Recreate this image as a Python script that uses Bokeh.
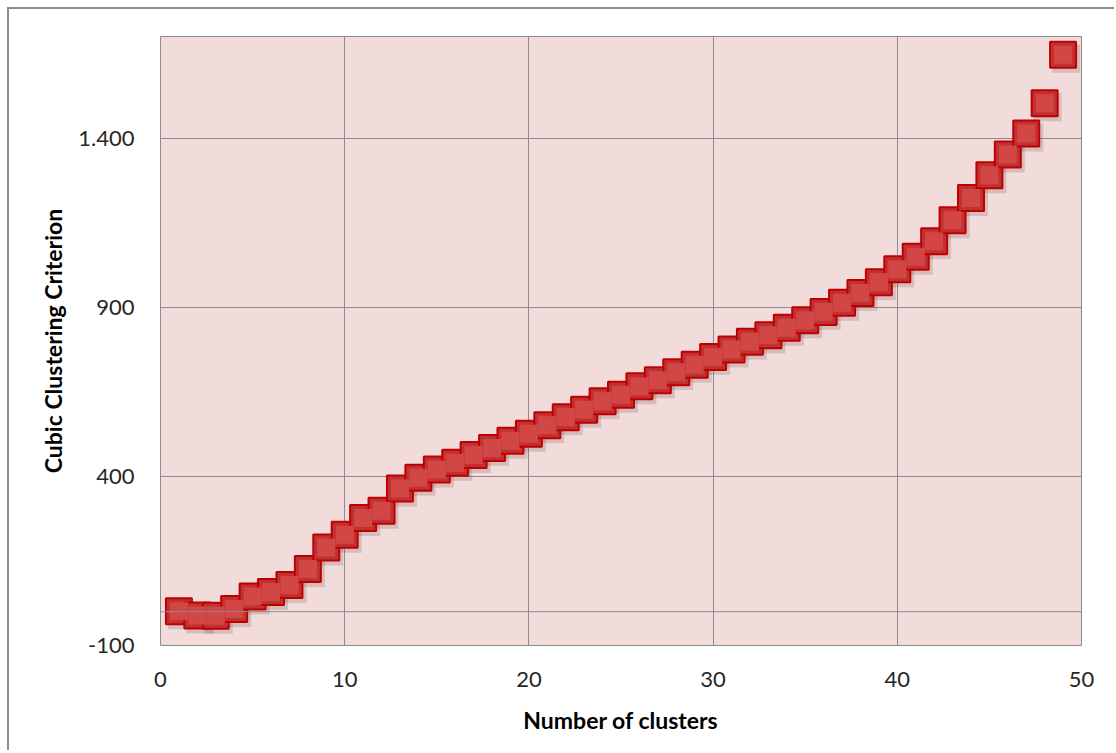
from bokeh.plotting import figure
from bokeh.models import ColumnDataSource, FixedTicker, Span, Range1d
from bokeh.transform import dodge
from bokeh.embed import file_html
from bokeh.resources import INLINE

clusters = list(range(1, 50))
ccc = [1, -11, -12, 8, 45, 58, 79, 126, 190, 227,
       277, 298, 364, 396, 420, 440, 463, 484, 505, 526,
       551, 575, 597, 622, 641, 666, 684, 708, 730, 753,
       775, 798, 817, 839, 861, 886, 913, 942, 974, 1012,
       1049, 1095, 1157, 1223, 1290, 1351, 1413, 1503, 1646]
x_ticks = [0, 10, 20, 30, 40, 50]
y_ticks = [-100, 400, 900, 1400]
y_tick_labels = ["-100", "400", "900", "1.400"]

src = ColumnDataSource(data=dict(x=clusters, y=ccc))

X0, X1, Y0, Y1 = 0, 50, -100, 1700
FRAME_W, FRAME_H = 921, 609

p = figure(width=1107, height=743, output_backend="svg", toolbar_location=None,
           x_range=Range1d(X0, X1), y_range=Range1d(Y0, Y1),
           min_border_left=151, min_border_right=35, min_border_top=27, min_border_bottom=107)
p.styles = {"margin-left": "7px", "margin-top": "7px",
            "border-left": "2px solid #8c8c8c", "border-top": "2px solid #8c8c8c"}

p.background_fill_color = "#F2DCDB"
p.border_fill_color = "white"
p.outline_line_color = "#8c8c8c"
p.outline_line_width = 1

p.xaxis.ticker = FixedTicker(ticks=x_ticks)
p.yaxis.ticker = FixedTicker(ticks=y_ticks)
p.yaxis.major_label_overrides = {t: l for t, l in zip(y_ticks, y_tick_labels)}

for ax in (p.xaxis[0], p.yaxis[0]):
    ax.axis_line_color = None
    ax.major_tick_line_color = None
    ax.minor_tick_line_color = None
    ax.major_label_text_font = "Lato"
    ax.major_label_text_font_size = "22px"
    ax.major_label_text_color = "#262626"
    ax.axis_label_text_font = "Lato"
    ax.axis_label_text_font_style = "bold"
    ax.axis_label_text_font_size = "23px"
    ax.axis_label_text_color = "black"

p.xaxis.axis_label = "Number of clusters"
p.yaxis.axis_label = "Cubic Clustering Criterion"
p.xaxis.major_label_standoff = 20
p.xaxis.axis_label_standoff = 16
p.yaxis.major_label_standoff = 20
p.yaxis.axis_label_standoff = 8

p.xgrid.ticker = FixedTicker(ticks=x_ticks)
p.ygrid.ticker = FixedTicker(ticks=y_ticks)
p.grid.grid_line_color = "#8c8c8c"
p.grid.grid_line_width = 1

p.add_layout(Span(location=0, dimension="width", line_color="#8c8c8c", line_width=1))

# soft drop shadow, offset ~3px right and ~4px down
dx = 3 * (X1 - X0) / FRAME_W
dy = -4 * (Y1 - Y0) / FRAME_H
p.scatter(x=dodge("x", dx), y=dodge("y", dy), source=src, marker="square", size=28,
          fill_color="#5a3030", fill_alpha=0.18, line_color=None)

p.scatter("x", "y", source=src, marker="square", size=26,
          fill_color="#C03232", line_color="#C00000", line_width=2)
p.scatter("x", "y", source=src, marker="square", size=18,
          fill_color="#D24646", line_color=None)

open("out.html", "w").write(file_html(p, INLINE))
